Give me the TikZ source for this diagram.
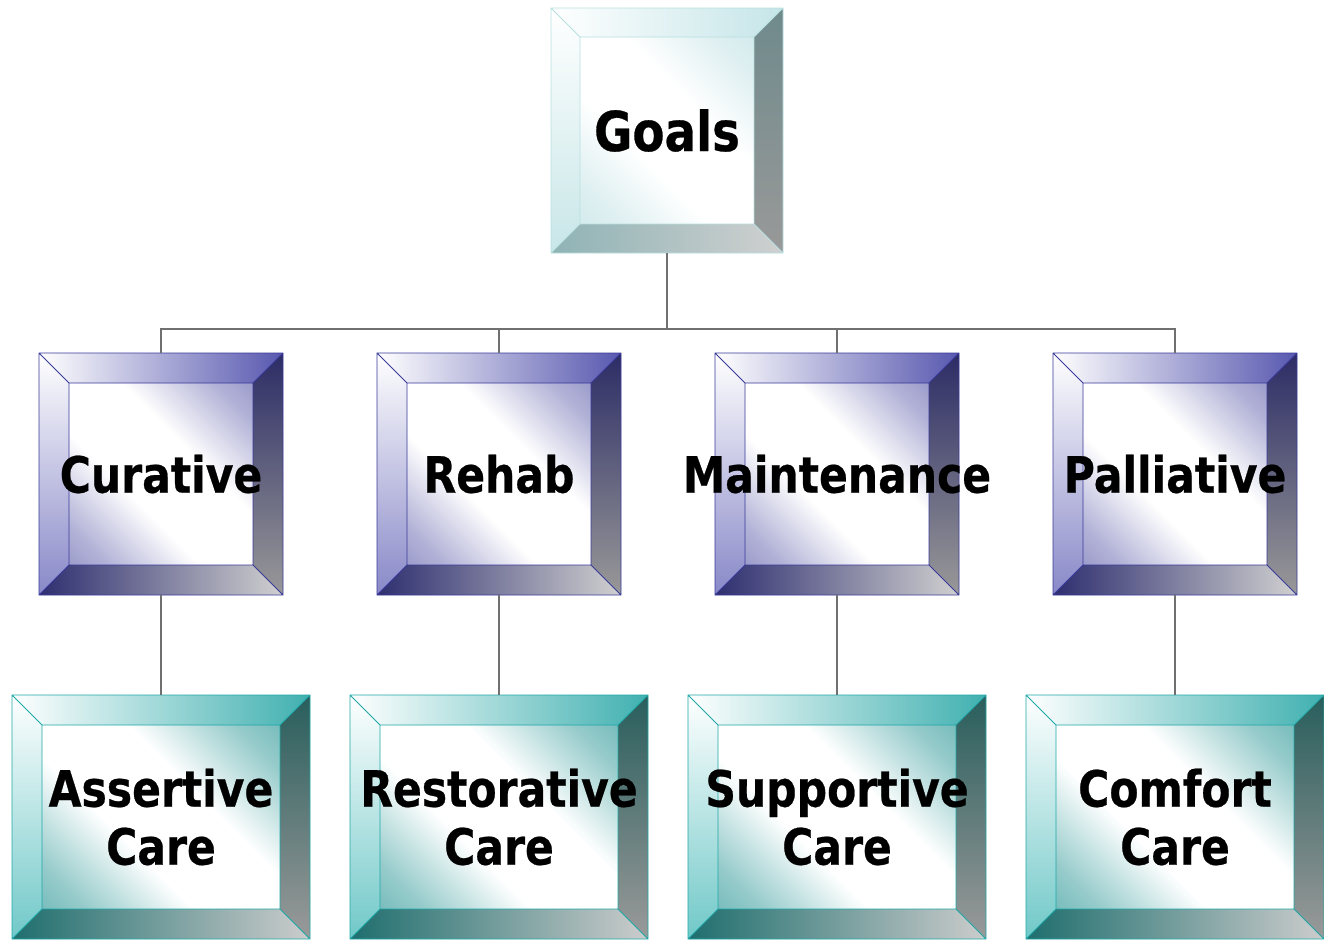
\documentclass[tikz,border=0pt]{standalone}
\usepackage{fontspec}
\setmainfont{DejaVu Sans}[FakeStretch=0.85, BoldFeatures={FakeBold=0.5}]
\usetikzlibrary{calc}
\pgfdeclarelayer{background}
\pgfsetlayers{background,main}

% colour schemes: edge, face, top bevel, left bevel, right bevel (top/bottom), bottom bevel (left/right)
\definecolor{cyanEdge}{HTML}{B8DFE0}
\definecolor{cyanFace}{HTML}{C2E2E5}
\definecolor{cyanTop}{HTML}{C5E5E8}
\definecolor{cyanLeft}{HTML}{C8E6E8}
\definecolor{cyanRT}{HTML}{6F8A8C}
\definecolor{cyanRB}{HTML}{999999}
\definecolor{cyanBL}{HTML}{8FB3B5}
\definecolor{cyanBR}{HTML}{D0D0D0}

\definecolor{navyEdge}{HTML}{3A3A9A}
\definecolor{navyFace}{HTML}{7272B6}
\definecolor{navyTop}{HTML}{5858B0}
\definecolor{navyLeft}{HTML}{8888C8}
\definecolor{navyRT}{HTML}{2C2C66}
\definecolor{navyRB}{HTML}{999999}
\definecolor{navyBL}{HTML}{2E2E70}
\definecolor{navyBR}{HTML}{D0D0D0}

\definecolor{tealEdge}{HTML}{20A8A8}
\definecolor{tealFace}{HTML}{40A0A0}
\definecolor{tealTop}{HTML}{40B0B0}
\definecolor{tealLeft}{HTML}{70C8C8}
\definecolor{tealRT}{HTML}{285E5C}
\definecolor{tealRB}{HTML}{9A9A9A}
\definecolor{tealBL}{HTML}{1F6E6E}
\definecolor{tealBR}{HTML}{CCCCCC}

\definecolor{linkGray}{HTML}{707070}

% diagonal face gradients: tinted corners, broad white middle
\colorlet{cyanSoft}{cyanFace!55!white}
\colorlet{navySoft}{navyFace!55!white}
\colorlet{tealSoft}{tealFace!55!white}
\pgfdeclareverticalshading{cyanShade}{100bp}{color(0bp)=(cyanFace); color(22bp)=(cyanSoft);
  color(40bp)=(white); color(60bp)=(white); color(78bp)=(cyanSoft); color(100bp)=(cyanFace)}
\pgfdeclareverticalshading{navyShade}{100bp}{color(0bp)=(navyFace); color(22bp)=(navySoft);
  color(40bp)=(white); color(60bp)=(white); color(78bp)=(navySoft); color(100bp)=(navyFace)}
\pgfdeclareverticalshading{tealShade}{100bp}{color(0bp)=(tealFace); color(22bp)=(tealSoft);
  color(40bp)=(white); color(60bp)=(white); color(78bp)=(tealSoft); color(100bp)=(tealFace)}

\newcommand\ctext[1]{\makebox[0pt]{#1}}

% bevelled frame behind a named node: #1 node, #2 bevel width, #3 scheme
\newcommand\bevel[3]{%
  \begin{pgfonlayer}{background}
    \coordinate (a) at (#1.north west);
    \coordinate (b) at (#1.north east);
    \coordinate (c) at (#1.south east);
    \coordinate (d) at (#1.south west);
    \coordinate (ia) at ($(a)+(#2,#2)$);
    \coordinate (ib) at ($(b)+(-#2,#2)$);
    \coordinate (ic) at ($(c)+(-#2,-#2)$);
    \coordinate (id) at ($(d)+(#2,-#2)$);
    \shade[shading=#3Shade, shading angle=-45] (ia) rectangle (ic);
    \shade[left color=white, right color=#3Top] (a) -- (b) -- (ib) -- (ia) -- cycle;
    \shade[top color=white, bottom color=#3Left] (a) -- (ia) -- (id) -- (d) -- cycle;
    \shade[top color=#3RT, bottom color=#3RB] (b) -- (c) -- (ic) -- (ib) -- cycle;
    \shade[left color=#3BL, right color=#3BR] (d) -- (id) -- (ic) -- (c) -- cycle;
    \draw[#3Edge, line width=0.9pt] (a) rectangle (c) (ia) rectangle (ic)
      (a) -- (ia) (b) -- (ib) (c) -- (ic) (d) -- (id);
  \end{pgfonlayer}}

\tikzset{
  box/.style={inner sep=0pt, outer sep=0pt, align=center, font=\bfseries\fontsize{50}{58}\selectfont},
  top/.style={box, minimum width=232pt, minimum height=245pt, font=\bfseries\fontsize{55}{60}\selectfont},
  mid/.style={box, minimum width=244pt, minimum height=242pt},
  low/.style={box, minimum width=298pt, minimum height=244pt},
  link/.style={draw=linkGray, line width=1.6pt}
}

\begin{document}
\begin{tikzpicture}[x=1pt, y=-1pt]
  \useasboundingbox (0,0) rectangle (1324,940);

  \node[top] (goals) at (667,130.5) {\ctext{Goals}};

  \node[mid] (cur) at (161,474) {\ctext{Curative}};
  \node[mid] (reh) at (499,474) {\ctext{Rehab}};
  \node[mid] (mai) at (837,474) {\ctext{Maintenance}};
  \node[mid] (pal) at (1175,474) {\ctext{Palliative}};

  \node[low] (ass) at (161,817) {\ctext{Assertive}\\\ctext{Care}};
  \node[low] (res) at (499,817) {\ctext{Restorative}\\\ctext{Care}};
  \node[low] (sup) at (837,817) {\ctext{Supportive}\\\ctext{Care}};
  \node[low] (com) at (1175,817) {\ctext{Comfort}\\\ctext{Care}};

  \bevel{goals}{29}{cyan}
  \bevel{cur}{30}{navy}
  \bevel{reh}{30}{navy}
  \bevel{mai}{30}{navy}
  \bevel{pal}{30}{navy}
  \bevel{ass}{30}{teal}
  \bevel{res}{30}{teal}
  \bevel{sup}{30}{teal}
  \bevel{com}{30}{teal}

  % tree connectors
  \coordinate (bus) at (667,329);
  \draw[link] (goals.south) -- (bus);
  \draw[link] (cur.north) |- (bus);
  \draw[link] (reh.north) |- (bus);
  \draw[link] (mai.north) |- (bus);
  \draw[link] (pal.north) |- (bus);

  \draw[link] (cur.south) -- (ass.north);
  \draw[link] (reh.south) -- (res.north);
  \draw[link] (mai.south) -- (sup.north);
  \draw[link] (pal.south) -- (com.north);
\end{tikzpicture}
\end{document}
